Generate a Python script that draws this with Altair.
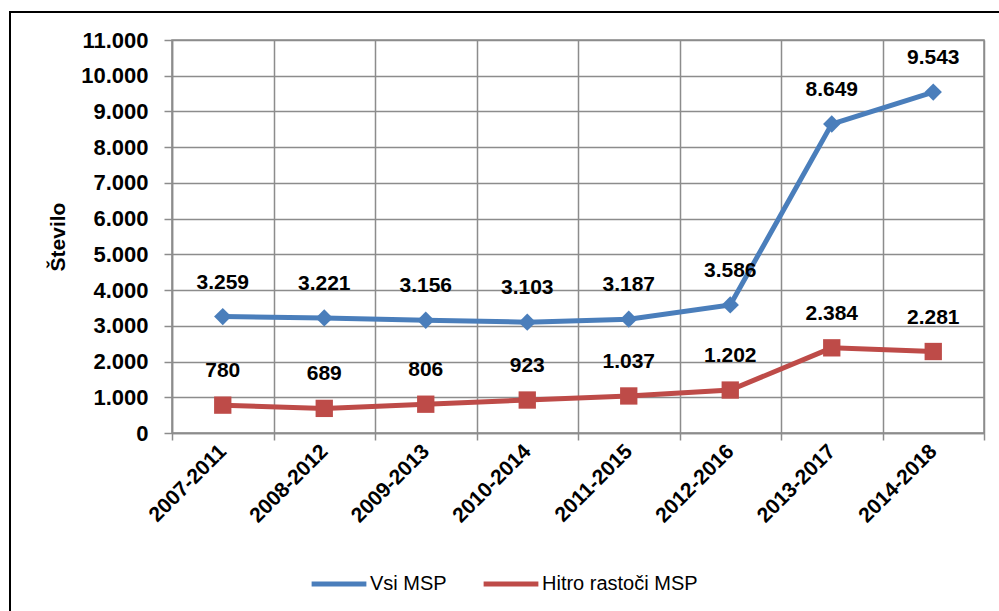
import altair as alt
import pandas as pd

# Five-year periods and the number of SMEs per group
periods = ["2007-2011", "2008-2012", "2009-2013", "2010-2014",
           "2011-2015", "2012-2016", "2013-2017", "2014-2018"]
vsi_msp = [3259, 3221, 3156, 3103, 3187, 3586, 8649, 9543]
hitro_rastoci = [780, 689, 806, 923, 1037, 1202, 2384, 2281]

series_names = ["Vsi MSP", "Hitro rastoči MSP"]
series_colors = ["#4A7EBB", "#BE4B48"]
series_shapes = ["diamond", "square"]
marker_sizes = [300, 300]

rows = []
for name, values in zip(series_names, [vsi_msp, hitro_rastoci]):
    for period, v in zip(periods, values):
        rows.append({"obdobje": period, "skupina": name, "stevilo": v})
df = pd.DataFrame(rows)

FONT = "Liberation Sans"
GRID = "#8C8C8C"

x_enc = alt.X(
    "obdobje:N",
    sort=periods,
    scale=alt.Scale(paddingInner=0, paddingOuter=0),
    axis=alt.Axis(
        title=None,
        tickBand="extent",
        labelAngle=-45,
        labelAlign="right",
        labelBaseline="middle",
        labelFontSize=21,
        labelFontWeight="bold",
        labelFont=FONT,
        labelColor="#000000",
        labelPadding=8,
        tickSize=7,
        tickColor=GRID,
        tickWidth=1.5,
        domainColor=GRID,
        domainWidth=1.5,
        grid=True,
        gridColor=GRID,
        gridWidth=1.5,
    ),
)

y_enc = alt.Y(
    "stevilo:Q",
    scale=alt.Scale(domain=[0, 11000], nice=False),
    axis=alt.Axis(
        title="Število",
        titleFont=FONT,
        titleFontSize=21,
        titleFontWeight="bold",
        titleColor="#000000",
        titlePadding=12,
        values=list(range(0, 11001, 1000)),
        labelExpr="replace(format(datum.value, ','), ',', '.')",
        labelFontSize=22,
        labelFontWeight="bold",
        labelFont=FONT,
        labelColor="#000000",
        labelPadding=16,
        tickSize=8,
        tickColor=GRID,
        tickWidth=1.5,
        domainColor=GRID,
        domainWidth=1.5,
        gridColor=GRID,
        gridWidth=1.5,
    ),
)

color_scale = alt.Scale(domain=series_names, range=series_colors)
legend = alt.Legend(
    title=None,
    orient="none",
    legendX=137,
    legendY=514,
    direction="horizontal",
    symbolType="stroke",
    symbolStrokeWidth=5,
    symbolSize=3000,
    labelFontSize=20,
    labelFont=FONT,
    labelColor="#000000",
    labelOffset=1,
    columnPadding=26,
)

base = alt.Chart(df).encode(x=x_enc, y=y_enc)

lines = base.mark_line(strokeWidth=5).encode(
    color=alt.Color("skupina:N", scale=color_scale, sort=series_names, legend=legend),
    detail="skupina:N",
)

# One marker layer per series, each with its own symbol
marker_layers = []
for name, shape, size in zip(series_names, series_shapes, marker_sizes):
    marker_layers.append(
        base.transform_filter(alt.datum.skupina == name)
        .mark_point(filled=True, opacity=1, shape=shape, size=size)
        .encode(color=alt.Color("skupina:N", scale=color_scale, sort=series_names, legend=legend))
    )

labels = base.transform_calculate(
    oznaka="replace(format(datum.stevilo, ','), ',', '.')"
).mark_text(
    dy=-34, fontSize=21, fontWeight="bold", font=FONT, color="#000000"
).encode(text="oznaka:N")

# Outer frame around the whole chart
frame = alt.Chart(pd.DataFrame({"k": [0]})).mark_rect(
    fillOpacity=0, stroke="#000000", strokeWidth=2
).encode(
    x=alt.value(-162), x2=alt.value(840), y=alt.value(-28), y2=alt.value(590)
)

chart = alt.layer(frame, lines, *marker_layers, labels).properties(
    width=812,
    height=393,
    autosize=alt.AutoSizeParams(type="none"),
    padding={"left": 172, "top": 40, "right": 15, "bottom": 178},
    background="#FFFFFF",
).configure_view(
    stroke=GRID, strokeWidth=1.5
)

chart.save("out.html", embed_options={"renderer": "svg", "actions": False})
